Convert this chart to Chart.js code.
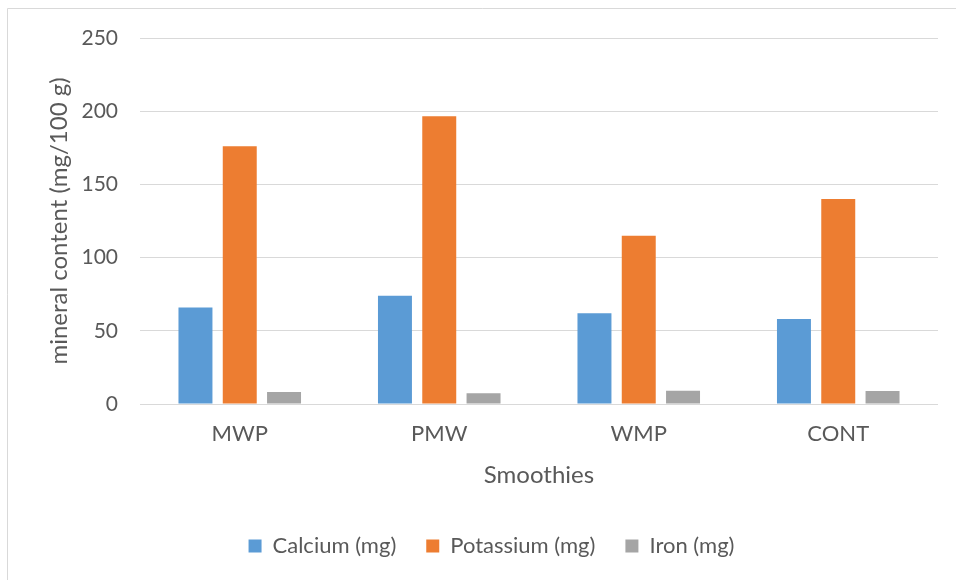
<!DOCTYPE html>
<html>
<head>
<meta charset="utf-8">
<script src="https://cdn.jsdelivr.net/npm/chart.js@4/dist/chart.umd.min.js"></script>
<style>
  html, body { margin: 0; padding: 0; background: #fff; }
  #wrap { width: 956px; height: 580px; position: relative; }
</style>
</head>
<body>
<div id="wrap"><canvas id="c" width="956" height="580"></canvas></div>
<script>
const categories = ["MWP", "PMW", "WMP", "CONT"];
const calcium = [66, 74, 62, 58];
const potassium = [176, 196.5, 115, 140];
const iron = [8.2, 7.3, 9.1, 8.9];
const yTicks = [0, 50, 100, 150, 200, 250];

const textColor = "#595959";
const fontFamily = "Lato, 'Open Sans', sans-serif";

const borderPlugin = {
  id: "outerBorder",
  beforeDraw(chart) {
    const ctx = chart.ctx;
    ctx.save();
    ctx.fillStyle = "#ffffff";
    ctx.fillRect(0, 0, chart.width, chart.height);
    ctx.strokeStyle = "#d9d9d9";
    ctx.lineWidth = 1;
    ctx.beginPath();
    ctx.moveTo(7.5, chart.height + 5);
    ctx.lineTo(7.5, 8.5);
    ctx.lineTo(chart.width + 5, 8.5);
    ctx.stroke();
    ctx.restore();
  }
};

new Chart(document.getElementById("c"), {
  type: "bar",
  data: {
    labels: categories,
    datasets: [
      { label: "Calcium (mg)", data: calcium, backgroundColor: "#5b9bd5" },
      { label: "Potassium (mg)", data: potassium, backgroundColor: "#ed7d31" },
      { label: "Iron (mg)", data: iron, backgroundColor: "#a5a5a5" }
    ]
  },
  options: {
    responsive: false,
    animation: false,
    devicePixelRatio: 1,
    layout: { padding: { left: 45, right: 18, top: 38, bottom: 13 } },
    datasets: { bar: { categoryPercentage: 0.666, barPercentage: 0.767 } },
    scales: {
      x: {
        grid: { display: false, drawTicks: false },
        border: { display: false },
        ticks: { color: textColor, font: { family: fontFamily, size: 22 }, padding: 17 },
        title: { display: true, text: "Smoothies", color: textColor, font: { family: fontFamily, size: 24 }, padding: { top: 0, bottom: 15.6 } },
        afterFit(scale) { scale.height = 101; }
      },
      y: {
        min: 0, max: 250,
        afterBuildTicks(scale) { scale.ticks = yTicks.map(v => ({ value: v })); },
        grid: { color: "#d9d9d9", lineWidth: 1, drawTicks: false },
        border: { display: false },
        ticks: { color: textColor, font: { family: fontFamily, size: 21 }, padding: 22 },
        title: { display: true, text: "mineral content (mg/100 g)", color: textColor, font: { family: fontFamily, size: 24 }, padding: { top: 0, bottom: 0 } },
        afterFit(scale) { scale.width = 95; }
      }
    },
    plugins: {
      legend: {
        position: "bottom",
        labels: { color: textColor, font: { family: fontFamily, size: 22 }, boxWidth: 13, boxHeight: 13, padding: 30 }
      },
      tooltip: { enabled: false }
    }
  },
  plugins: [borderPlugin]
});
</script>
</body>
</html>
